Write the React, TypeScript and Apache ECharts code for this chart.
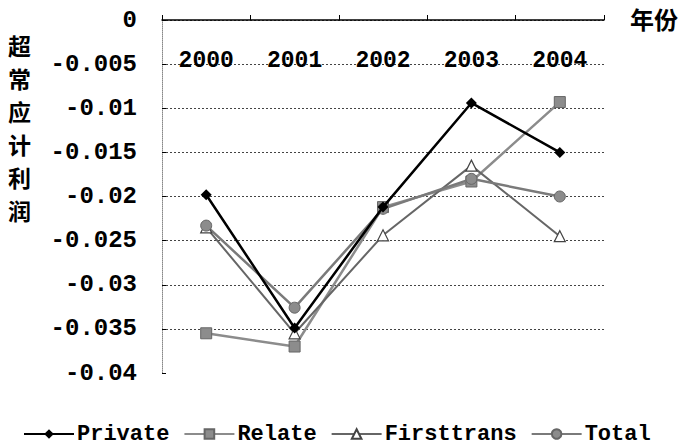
import React, { useEffect, useRef } from "react";
import * as echarts from "echarts";

const years = ["2000", "2001", "2002", "2003", "2004"];
const privateVals = [-0.0198, -0.0349, -0.0212, -0.0094, -0.015];
const relateVals = [-0.0355, -0.037, -0.0212, -0.0183, -0.0093];
const firsttransVals = [-0.0235, -0.0355, -0.0244, -0.0165, -0.0245];
const totalVals = [-0.0233, -0.0326, -0.0214, -0.018, -0.02];
const yTicks = [0, -0.005, -0.01, -0.015, -0.02, -0.025, -0.03, -0.035, -0.04];

const FONT = "'Liberation Mono', monospace";

export default function App() {
  const ref = useRef<HTMLDivElement>(null);
  useEffect(() => {
    const chart = echarts.init(ref.current!, null, { renderer: "svg" });
    const gridColors = yTicks.map((v) => (v === -0.04 ? "rgba(0,0,0,0)" : "#444"));
    gridColors.reverse();
    chart.setOption({
      animation: false,
      backgroundColor: "#fff",
      grid: { left: 162, top: 20, right: 83, bottom: 75, containLabel: false },
      graphic: [
        {
          type: "text",
          left: 8,
          top: 28,
          style: {
            text: "超\n常\n应\n计\n利\n润",
            font: "bold 23px 'Noto Sans CJK SC'",
            lineHeight: 33,
            fill: "#000",
          },
        },
        {
          type: "text",
          left: 630,
          top: 6,
          style: {
            text: "年份",
            font: "bold 24px 'Noto Sans CJK SC'",
            fill: "#000",
          },
        },
      ],
      legend: {
        left: 18,
        top: 418,
        itemWidth: 50,
        itemHeight: 12,
        itemGap: 14,
        textStyle: { fontFamily: FONT, fontSize: 22, fontWeight: "bold", color: "#000", padding: [0, 0, 0, -2] },
        data: ["Private", "Relate", "Firsttrans", "Total"],
      },
      xAxis: {
        type: "category",
        position: "top",
        data: years,
        boundaryGap: true,
        axisLine: { show: true, lineStyle: { color: "#000", width: 1.5 } },
        axisTick: { show: true, inside: false, length: 5, lineStyle: { color: "#000" } },
        axisLabel: {
          inside: true,
          margin: 29,
          fontFamily: FONT,
          fontSize: 23,
          fontWeight: "bold",
          color: "#000",
        },
        splitLine: { show: false },
      },
      yAxis: {
        type: "value",
        min: -0.04,
        max: 0,
        interval: 0.005,
        axisLine: { show: true, lineStyle: { color: "#888", width: 1, type: "dotted" } },
        axisTick: { show: true, inside: true, length: 4, lineStyle: { color: "#000" } },
        axisLabel: {
          margin: 25,
          fontFamily: FONT,
          fontSize: 24,
          fontWeight: "bold",
          color: "#000",
          formatter: (v: number) => (v === 0 ? "0" : String(Number(v.toFixed(3)))),
        },
        splitLine: {
          show: true,
          lineStyle: { color: gridColors, type: [2, 2], width: 1 },
        },
      },
      series: [
        {
          name: "Private",
          type: "line",
          data: privateVals,
          symbol: "diamond",
          symbolSize: 11,
          itemStyle: { color: "#000" },
          lineStyle: { color: "#000", width: 2.5 },
          z: 4,
        },
        {
          name: "Relate",
          type: "line",
          data: relateVals,
          symbol: "rect",
          symbolSize: 11,
          itemStyle: { color: "#8c8c8c", borderColor: "#666", borderWidth: 1 },
          lineStyle: { color: "#8c8c8c", width: 2.5 },
          z: 2,
        },
        {
          name: "Firsttrans",
          type: "line",
          data: firsttransVals,
          symbol: "triangle",
          symbolSize: 11,
          itemStyle: { color: "#fff", borderColor: "#444", borderWidth: 1.2 },
          lineStyle: { color: "#666", width: 2 },
          z: 3,
        },
        {
          name: "Total",
          type: "line",
          data: totalVals,
          symbol: "circle",
          symbolSize: 11,
          itemStyle: { color: "#8c8c8c", borderColor: "#666", borderWidth: 1 },
          lineStyle: { color: "#7a7a7a", width: 2.5 },
          z: 3,
        },
      ],
    });
    return () => chart.dispose();
  }, []);
  return (
    <div
      ref={ref}
      style={{ position: "fixed", left: 0, top: 0, width: 687, height: 448 }}
    />
  );
}
